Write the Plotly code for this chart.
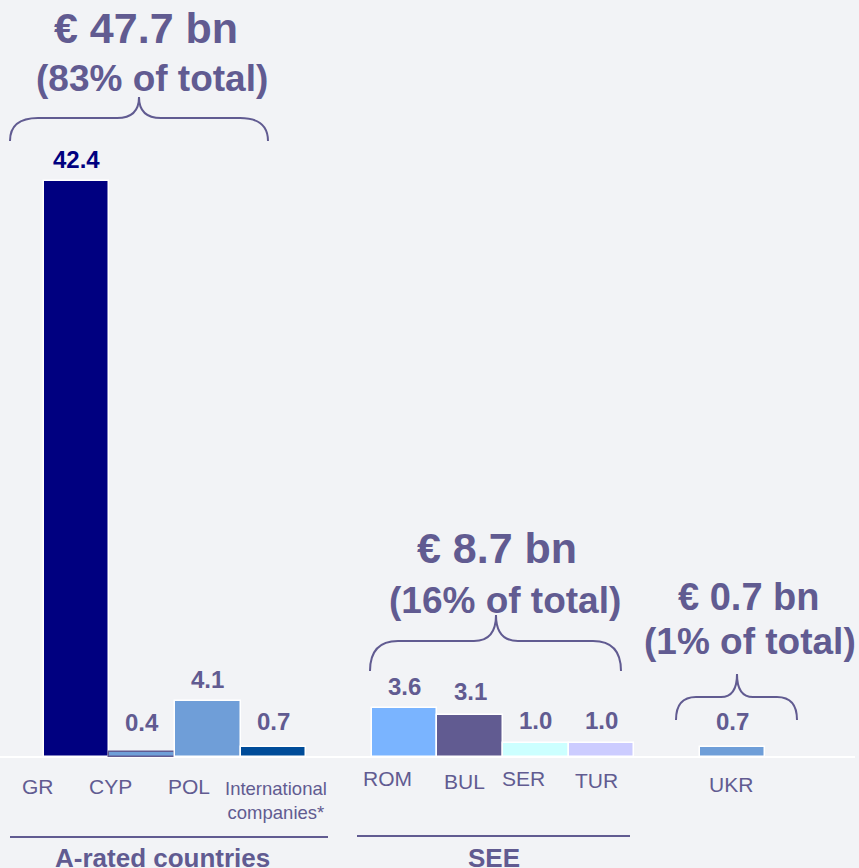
import plotly.graph_objects as go

# ------------------------------------------------------------
# Loan book by region (EUR bn)
# ------------------------------------------------------------

countries = ["GR", "CYP", "POL", "International<br>companies*",
             "ROM", "BUL", "SER", "TUR", "UKR"]
values = [42.4, 0.4, 4.1, 0.7, 3.6, 3.1, 1.0, 1.0, 0.7]
value_text = ["42.4", "0.4", "4.1", "0.7", "3.6", "3.1", "1.0", "1.0", "0.7"]
country_group = [0, 0, 0, 0, 1, 1, 1, 1, 2]

group_names = ["A-rated countries", "SEE", ""]
group_totals = ["€ 47.7 bn", "€ 8.7 bn", "€ 0.7 bn"]
group_shares = ["(83% of total)", "(16% of total)", "(1% of total)"]

# ------------------------------------------------------------
# styling
# ------------------------------------------------------------

W, H = 859, 868
BG = "#F2F3F6"
PURPLE = "#615B91"
FONT = "Liberation Sans, Arial, sans-serif"

bar_colors = ["#000080", "#6F9FD8", "#6F9ED8", "#004C99",
              "#7AB4FF", "#615B91", "#CCFFFF", "#CCCCFF", "#6F9ED8"]
bar_lines = ["white", PURPLE, "white", "white",
             "white", "white", "white", "white", "white"]
label_lift = [22, 29, 22, 26, 22, 23, 23, 23, 26]
tick_dx = [-38.5, -32, -19, 2.5, -17.5, -6, -12.5, -4.5, -1.5]
tick_py = [786, 786, 786, 800, 778, 781, 778, 780, 784]

# slot position: one empty slot between groups
xpos = [i + g for i, g in enumerate(country_group)]


def px(x):
    return x / W


def py(y):
    return 1 - y / H


def brace(x0, x1, xt, y_end, y_mid, y_tip, r=28, rt=22):
    pts = [
        f"M {px(x0)},{py(y_end)}",
        f"Q {px(x0)},{py(y_mid)} {px(x0 + r)},{py(y_mid)}",
        f"L {px(xt - rt)},{py(y_mid)}",
        f"Q {px(xt)},{py(y_mid)} {px(xt)},{py(y_tip)}",
        f"Q {px(xt)},{py(y_mid)} {px(xt + rt)},{py(y_mid)}",
        f"L {px(x1 - r)},{py(y_mid)}",
        f"Q {px(x1)},{py(y_mid)} {px(x1)},{py(y_end)}",
    ]
    return " ".join(pts)


fig = go.Figure()

fig.add_trace(go.Bar(
    x=xpos,
    y=values,
    width=1,
    marker=dict(color=bar_colors, line=dict(color=bar_lines, width=1.5)),
    hoverinfo="skip",
    showlegend=False,
))

annotations = []

# value labels above bars
for i, (x, v) in enumerate(zip(xpos, values)):
    annotations.append(dict(
        x=x, y=v, xref="x", yref="y", text=f"<b>{value_text[i]}</b>",
        showarrow=False, xanchor="center", yanchor="middle", yshift=label_lift[i],
        font=dict(size=24, color="#000080" if i == 0 else PURPLE, family=FONT),
    ))

# category labels under the baseline
for i, x in enumerate(xpos):
    small = "<br>" in countries[i]
    annotations.append(dict(
        x=x, y=py(tick_py[i]), xref="x", yref="paper", text=countries[i],
        showarrow=False, xanchor="center", yanchor="middle", xshift=tick_dx[i],
        font=dict(size=18.5 if small else 21, color=PURPLE, family=FONT),
    ))

# group headlines
head_pos = [(146, 28, 152, 78, 43), (497, 548, 505, 600, 43), (749, 597, 750, 641, 38)]
for g, (tx, ty, sx, sy, fs) in enumerate(head_pos):
    annotations.append(dict(
        x=px(tx), y=py(ty), xref="paper", yref="paper",
        text=f"<b>{group_totals[g]}</b>", showarrow=False,
        xanchor="center", yanchor="middle",
        font=dict(size=fs, color=PURPLE, family=FONT),
    ))
    annotations.append(dict(
        x=px(sx), y=py(sy), xref="paper", yref="paper",
        text=f"<b>{group_shares[g]}</b>", showarrow=False,
        xanchor="center", yanchor="middle",
        font=dict(size=37, color=PURPLE, family=FONT),
    ))

# group names under the chart
for g, cx in [(0, 162), (1, 494)]:
    annotations.append(dict(
        x=px(cx), y=py(858), xref="paper", yref="paper",
        text=f"<b>{group_names[g]}</b>", showarrow=False,
        xanchor="center", yanchor="middle",
        font=dict(size=26, color=PURPLE, family=FONT),
    ))

shapes = [
    # baseline
    dict(type="line", xref="paper", yref="y", x0=0, x1=px(855), y0=0, y1=0,
         line=dict(color="white", width=2), layer="below"),
    # group underlines
    dict(type="line", xref="paper", yref="paper", x0=px(10), x1=px(328),
         y0=py(837), y1=py(837), line=dict(color=PURPLE, width=2)),
    dict(type="line", xref="paper", yref="paper", x0=px(357), x1=px(630),
         y0=py(836), y1=py(836), line=dict(color=PURPLE, width=2)),
    # braces
    dict(type="path", xref="paper", yref="paper",
         path=brace(10, 268, 139, 141, 118, 97), line=dict(color=PURPLE, width=2)),
    dict(type="path", xref="paper", yref="paper",
         path=brace(370, 621, 496, 671, 641, 615), line=dict(color=PURPLE, width=2)),
    dict(type="path", xref="paper", yref="paper",
         path=brace(676, 797, 737, 720, 697, 674, r=20, rt=16),
         line=dict(color=PURPLE, width=2)),
]

unit = 65.6
ppu = (757 - 181) / values[0]
fig.update_layout(
    width=W, height=H,
    margin=dict(l=0, r=0, t=0, b=0),
    paper_bgcolor=BG, plot_bgcolor=BG,
    xaxis=dict(range=[-76.5 / unit, (W - 76.5) / unit], visible=False, fixedrange=True),
    yaxis=dict(range=[-(H - 757) / ppu, 757 / ppu], visible=False, fixedrange=True),
    annotations=annotations,
    shapes=shapes,
    bargap=0,
    font=dict(family=FONT, color=PURPLE),
)

fig.write_html(
    "out.html",
    config={"displayModeBar": False},
    post_script="document.body.style.margin='0';document.body.style.overflow='hidden';"
                "document.body.style.background='" + BG + "';",
)
